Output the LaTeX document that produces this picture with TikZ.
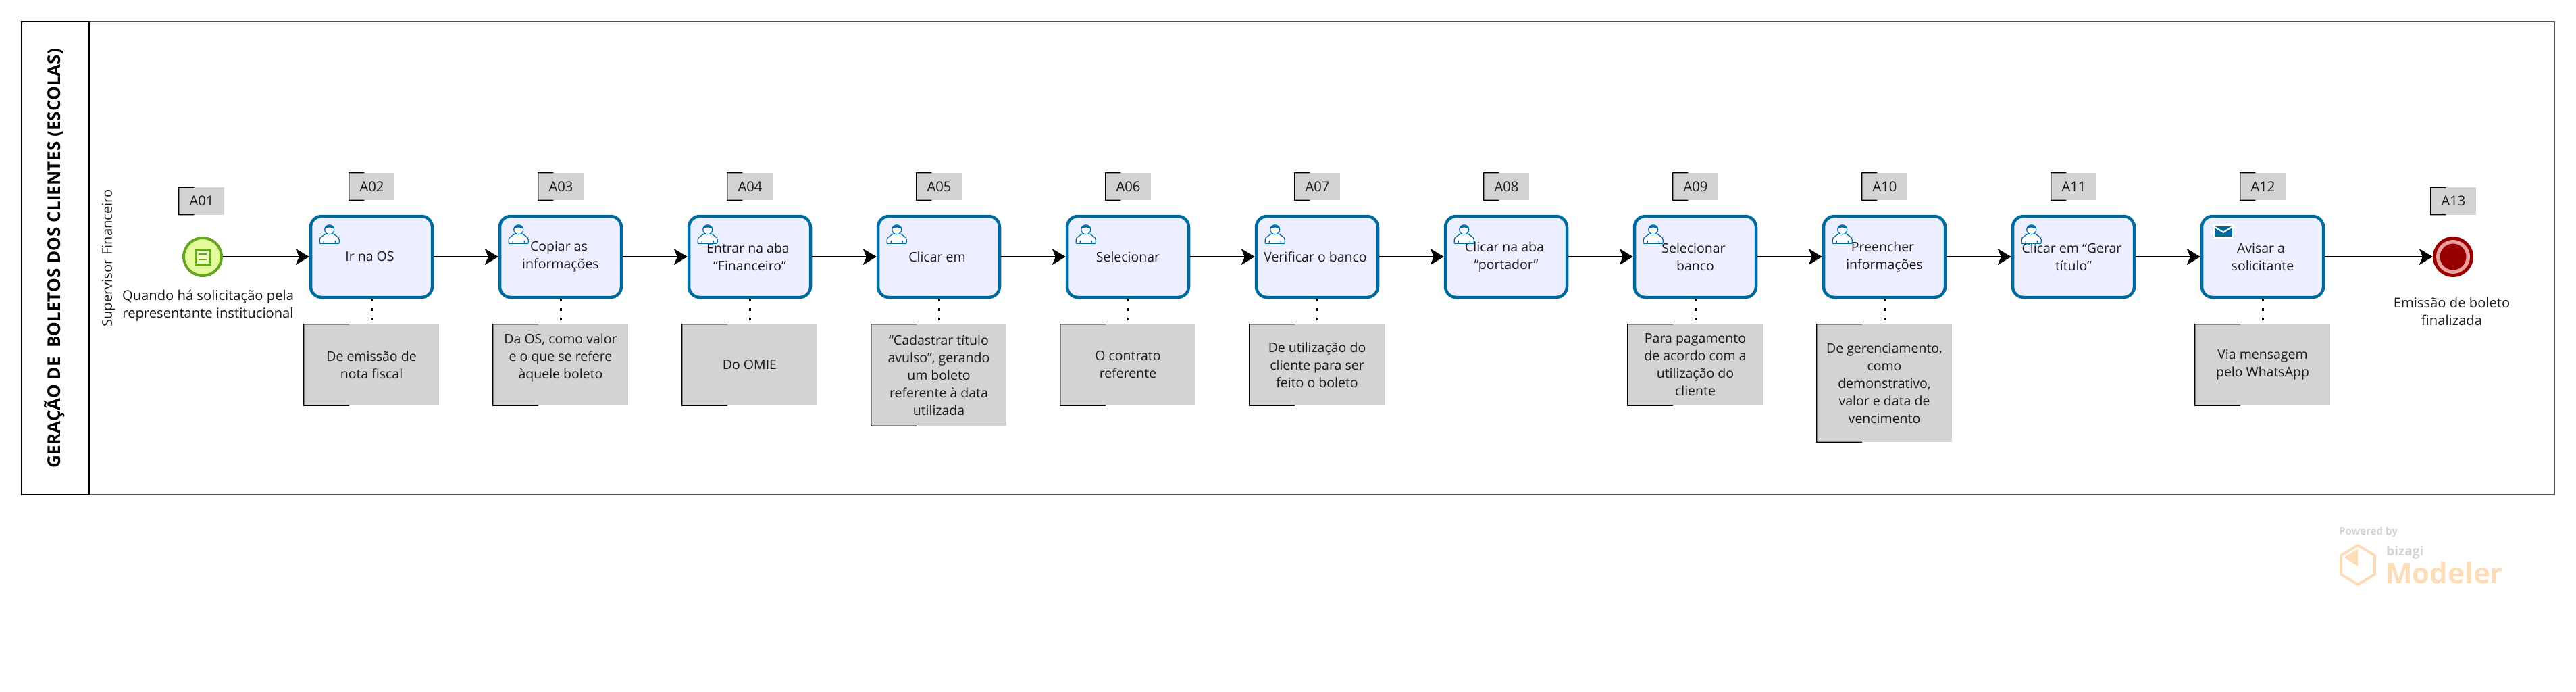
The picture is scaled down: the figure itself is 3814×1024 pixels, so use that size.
\documentclass[tikz,border=0pt]{standalone}
\usepackage{fontspec}
\setmainfont{Open Sans}
\usetikzlibrary{arrows.meta,calc}
\definecolor{taskblue}{HTML}{006A9E}
\definecolor{taskfill}{HTML}{ECEFFF}
\definecolor{notegray}{HTML}{D3D3D3}
\definecolor{startgreen}{HTML}{64A61C}
\definecolor{startfill}{HTML}{E4FB9C}
\definecolor{enddark}{HTML}{990000}
\definecolor{endlight}{HTML}{EBA0A0}
\definecolor{logoorange}{HTML}{FCDDB8}
\definecolor{logogray}{HTML}{D2D2D2}
\definecolor{inktext}{HTML}{1A1A1A}
\tikzset{
	bodytext/.style={text=inktext,font=\fontsize{19.5}{26}\selectfont,align=center,inner sep=0pt},
	evlabel/.style={text=inktext,font=\fontsize{20.2}{26}\selectfont,align=center,inner sep=0pt},
	taskbox/.style={bodytext,draw=taskblue,fill=taskfill,line width=4.5pt,rounded corners=16pt,minimum width=180pt,minimum height=120pt},
	notebox/.style={bodytext,fill=notegray,minimum width=200pt,minimum height=#1},
	notebox/.default=120pt,
	tagbox/.style={evlabel,fill=notegray,minimum width=67pt,minimum height=40pt},
	startev/.style={circle,draw=startgreen,fill=startfill,line width=4pt,minimum size=56pt,inner sep=0pt},
	endev/.style={circle,fill=enddark,minimum size=60pt,inner sep=0pt},
	flow/.style={line width=2.5pt,-{Stealth[length=20pt,width=24pt,inset=5pt]}},
	assoc/.style={line width=3pt,dash pattern=on 4pt off 10pt},
	usericon/.pic={
		\fill[white] (-15,27) -- (-15,21) -- (-5,13) -- (-7,7) -- (0,0) -- (7,7) -- (5,13) -- (15,21) -- (15,27) -- cycle;
		\draw[taskblue,line width=1.2pt] (0,7) circle(7pt);
		\fill[taskblue] (-7,6) .. controls (-6,-1) and (6,-1) .. (7,6) .. controls (3,3) and (-3,3) .. (-7,6);
		\draw[taskblue,line width=1.2pt] (-14.5,27) -- (-14.5,22) .. controls (-14.5,18) and (-9,16) .. (-5,13)
		(14.5,27) -- (14.5,22) .. controls (14.5,18) and (9,16) .. (5,13)
		(-8.5,23) -- (-8.5,27) (8.5,23) -- (8.5,27);
		\draw[taskblue,line width=1.5pt] (-14.5,27) -- (14.5,27);
	},
	mailicon/.pic={
		\fill[white] (0,0) rectangle (32,21.5);
		\fill[taskblue] (3,3) rectangle (29,18);
		\draw[white,line width=2.2pt] (3,4) -- (16,12) -- (29,4);
	}
}
% traco preto dos dois lados do comentario
\newcommand{\notebracket}[1]{\draw[black,line width=1.3pt] ($(#1.north west)!0.335!(#1.north east)$) -- (#1.north west) -- (#1.south west) -- ($(#1.south west)!0.335!(#1.south east)$);}
\begin{document}
\begin{tikzpicture}[x=1pt,y=-1pt]
	\useasboundingbox (0,0) rectangle (3814,1024);
	% raia
	\draw[line width=2.5pt,draw=black!68] (132,32) rectangle (3782,732);
	\draw[line width=2.5pt] (32,32) rectangle (132,732);
	\node[rotate=90,text=black,font=\fontsize{26.1}{28}\selectfont\bfseries,inner sep=0pt] (titulo) at (81,382) {GERAÇÃO DE\ \ BOLETOS DOS CLIENTES (ESCOLAS)};
	\node[rotate=90,evlabel] (raia) at (161,382) {Supervisor Financeiro};
	% eventos e tarefas
	\node[startev] (a01) at (300,380) {};
	\draw[startgreen,line width=3pt,fill=startfill!60!white] (289,369) rectangle (311,391);
	\draw[startgreen,line width=2.5pt] (294,376) -- (306,376) (294,384) -- (306,384);
	\node[evlabel] (a01label) at (308,452) {Quando há solicitação pela\\ representante institucional};
	\node[taskbox] (a02) at (550,380) {Ir na OS\hspace*{5pt}};
	\node[taskbox] (a03) at (830,380) {Copiar as\hspace*{5pt}\\ informações};
	\node[taskbox] (a04) at (1110,380) {Entrar na aba\hspace*{5pt}\\ ``Financeiro''};
	\node[taskbox] (a05) at (1390,380) {Clicar em\hspace*{5pt}};
	\node[taskbox] (a06) at (1670,380) {Selecionar};
	\node[taskbox] (a07) at (1950,380) {Verificar o banco\hspace*{5pt}};
	\node[taskbox] (a08) at (2230,380) {Clicar na aba\hspace*{5pt}\\ ``portador''};
	\node[taskbox] (a09) at (2510,380) {Selecionar\hspace*{5pt}\\ banco};
	\node[taskbox] (a10) at (2790,380) {Preencher\hspace*{5pt}\\ informações};
	\node[taskbox] (a11) at (3070,380) {Clicar em ``Gerar\hspace*{5pt}\\ título''};
	\node[taskbox] (a12) at (3350,380) {Avisar a\hspace*{5pt}\\ solicitante};
	\node[endev] (a13) at (3632,380) {};
	\fill[endlight] (a13) circle(25pt);
	\fill[enddark] (a13) circle(19.5pt);
	\node[evlabel] (a13label) at (3630,461) {Emissão de boleto\\ finalizada};
	% icones
	\path (a02.north west) pic[xshift=30pt,yshift=-15pt] {usericon};
	\path (a03.north west) pic[xshift=30pt,yshift=-15pt] {usericon};
	\path (a04.north west) pic[xshift=30pt,yshift=-15pt] {usericon};
	\path (a05.north west) pic[xshift=30pt,yshift=-15pt] {usericon};
	\path (a06.north west) pic[xshift=30pt,yshift=-15pt] {usericon};
	\path (a07.north west) pic[xshift=30pt,yshift=-15pt] {usericon};
	\path (a08.north west) pic[xshift=30pt,yshift=-15pt] {usericon};
	\path (a09.north west) pic[xshift=30pt,yshift=-15pt] {usericon};
	\path (a10.north west) pic[xshift=30pt,yshift=-15pt] {usericon};
	\path (a11.north west) pic[xshift=30pt,yshift=-15pt] {usericon};
	\path (a12.north west) pic[xshift=18pt,yshift=-14pt] {mailicon};
	% etiquetas
	\node[tagbox] (t01) at (298.5,297.5) {A01};
	\node[tagbox] (t02) at (550.5,276) {A02};
	\node[tagbox] (t03) at (830.5,276) {A03};
	\node[tagbox] (t04) at (1110.5,276) {A04};
	\node[tagbox] (t05) at (1390.5,276) {A05};
	\node[tagbox] (t06) at (1670.5,276) {A06};
	\node[tagbox] (t07) at (1950.5,276) {A07};
	\node[tagbox] (t08) at (2230.5,276) {A08};
	\node[tagbox] (t09) at (2510.5,276) {A09};
	\node[tagbox] (t10) at (2790.5,276) {A10};
	\node[tagbox] (t11) at (3070.5,276) {A11};
	\node[tagbox] (t12) at (3350.5,276) {A12};
	\node[tagbox] (t13) at (3632.5,297.5) {A13};
	\notebracket{t01} \notebracket{t02} \notebracket{t03} \notebracket{t04} \notebracket{t05} \notebracket{t06} \notebracket{t07}
	\notebracket{t08} \notebracket{t09} \notebracket{t10} \notebracket{t11} \notebracket{t12} \notebracket{t13}
	% comentarios
	\node[notebox] (n02) at (550,540) {De emissão de\\ nota fiscal};
	\node[notebox] (n03) at (830,540) {Da OS, como valor\\ e o que se refere\\ àquele boleto\\ ~};
	\node[notebox] (n04) at (1110,540) {Do OMIE};
	\node[notebox=150pt] (n05) at (1390,555) {``Cadastrar título\\ avulso'', gerando\\ um boleto\\ referente à data\\ utilizada};
	\node[notebox] (n06) at (1670,540) {O contrato\\ referente};
	\node[notebox] (n07) at (1950,540) {De utilização do\\ cliente para ser\\ feito o boleto};
	\node[notebox] (n09) at (2510,540) {Para pagamento\\ de acordo com a\\ utilização do\\ cliente};
	\node[notebox=174pt] (n10) at (2790,567) {De gerenciamento,\\ como\\ demonstrativo,\\ valor e data de\\ vencimento};
	\node[notebox] (n12) at (3350,540) {Via mensagem\\ pelo WhatsApp};
	\notebracket{n02} \notebracket{n03} \notebracket{n04} \notebracket{n05} \notebracket{n06} \notebracket{n07}
	\notebracket{n09} \notebracket{n10} \notebracket{n12}
	\draw[assoc] (a02) -- (n02);
	\draw[assoc] (a03) -- (n03);
	\draw[assoc] (a04) -- (n04);
	\draw[assoc] (a05) -- (n05);
	\draw[assoc] (a06) -- (n06);
	\draw[assoc] (a07) -- (n07);
	\draw[assoc] (a09) -- (n09);
	\draw[assoc] (a10) -- (n10);
	\draw[assoc] (a12) -- (n12);
	% fluxo
	\draw[flow] (a01) -- (a02);
	\draw[flow] (a02) -- (a03);
	\draw[flow] (a03) -- (a04);
	\draw[flow] (a04) -- (a05);
	\draw[flow] (a05) -- (a06);
	\draw[flow] (a06) -- (a07);
	\draw[flow] (a07) -- (a08);
	\draw[flow] (a08) -- (a09);
	\draw[flow] (a09) -- (a10);
	\draw[flow] (a10) -- (a11);
	\draw[flow] (a11) -- (a12);
	\draw[flow] (a12) -- (a13);
	% marca
	\node[text=logogray,font=\fontsize{15}{17}\selectfont\bfseries,anchor=west,inner sep=0pt] (powered) at (3463,788) {Powered by};
	\draw[logoorange,line width=4pt,line join=round] (3491,807) -- (3516,822) -- (3516,850) -- (3491,865) -- (3466,850) -- (3466,822) -- cycle;
	\fill[logoorange] (3491,812) -- (3491,838) -- (3471,825) -- cycle;
	\node[text=logogray,font=\fontsize{19}{21}\selectfont\bfseries,anchor=west,inner sep=0pt] (bizagi) at (3533,818) {bizagi};
	\node[text=logoorange,font=\fontsize{42}{46}\selectfont\bfseries,anchor=west,inner sep=0pt] (modeler) at (3532,848) {Modeler};
\end{tikzpicture}
\end{document}
